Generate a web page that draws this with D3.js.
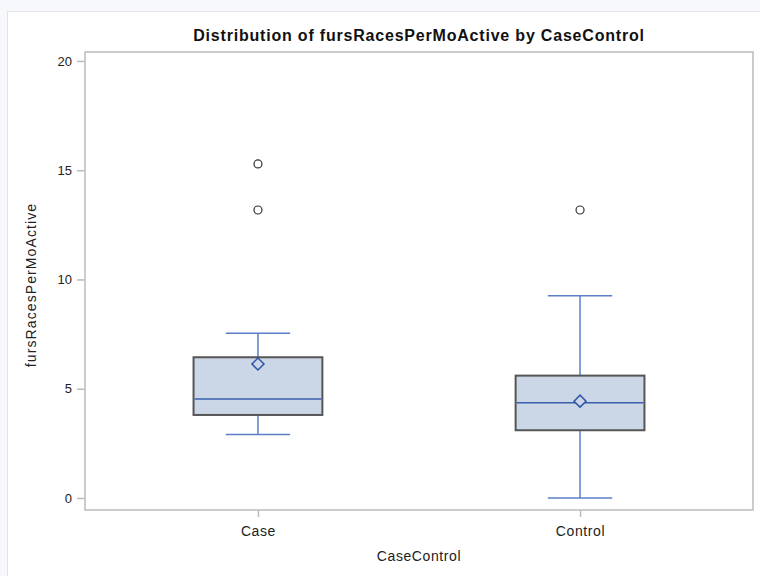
<!DOCTYPE html>
<html>
<head>
<meta charset="utf-8">
<script src="https://cdn.jsdelivr.net/npm/d3@7"></script>
<style>
  body { margin: 0; background: #f7f8fc; }
  svg { display: block; font-family: "Liberation Sans", Arial, sans-serif; }
</style>
</head>
<body>
<div id="chart"></div>
<script>
const width = 760;
const height = 576;

// plot frame
const margin = { top: 52, left: 85, bottom: 66, right: 7 };

// data
const groups = ["Case", "Control"];
const q1 = [3.80, 3.10];
const medians = [4.53, 4.36];
const q3 = [6.44, 5.60];
const whiskerLow = [2.90, 0.0];
const whiskerHigh = [7.54, 9.26];
const means = [6.13, 4.43];
const outliers = [[15.29, 13.18], [13.18]];
const yTicks = [0, 5, 10, 15, 20];

const boxes = groups.map((g, i) => ({
    group: g, q1: q1[i], median: medians[i], q3: q3[i],
    low: whiskerLow[i], high: whiskerHigh[i], mean: means[i], outliers: outliers[i]
}));

const svg = d3.select("#chart").append("svg").attr("width", width).attr("height", height);

// outer panel
svg.append("rect")
    .attr("x", 7.5).attr("y", 11.5)
    .attr("width", width).attr("height", height)
    .attr("fill", "white")
    .attr("stroke", "#e2e3e6");

const x = d3.scalePoint()
    .domain(groups)
    .range([margin.left, width - margin.right])
    .padding(0.537);

const y = d3.scaleLinear()
    .domain([-0.55, 20.41])
    .range([height - margin.bottom, margin.top]);

const step = x.step();
const boxW = step * 0.4;
const capW = step * 0.2;

// title
svg.append("text")
    .attr("x", (margin.left + width - margin.right) / 2)
    .attr("y", 41)
    .attr("text-anchor", "middle")
    .attr("fill", "#111")
    .style("font-size", "16px")
    .style("letter-spacing", "0.8px")
    .style("font-weight", 700)
    .text("Distribution of fursRacesPerMoActive by CaseControl");

// frame
svg.append("rect")
    .attr("x", margin.left).attr("y", margin.top)
    .attr("width", width - margin.left - margin.right)
    .attr("height", height - margin.top - margin.bottom)
    .attr("fill", "none")
    .attr("stroke", "#b9bcc0")
    .attr("stroke-width", 1.5);

// axes
const yAxis = d3.axisLeft(y).tickValues(yTicks).tickSize(8).tickPadding(5);
const gy = svg.append("g")
    .attr("transform", `translate(${margin.left},0)`)
    .call(yAxis);

const xAxis = d3.axisBottom(x).tickSize(7).tickPadding(9);
const gx = svg.append("g")
    .attr("transform", `translate(0,${height - margin.bottom})`)
    .call(xAxis);

[gx, gy].forEach(g => {
    g.select(".domain").remove();
    g.selectAll(".tick line").attr("stroke", "#b9bcc0").attr("stroke-width", 1.5);
    g.selectAll(".tick text").attr("fill", "#222").style("font-size", "13px");
});
gx.selectAll(".tick text").style("font-size", "14px").style("letter-spacing", "0.6px");

svg.append("text")
    .attr("x", (margin.left + width - margin.right) / 2)
    .attr("y", 561)
    .attr("text-anchor", "middle")
    .attr("fill", "#222")
    .style("font-size", "14px")
    .style("letter-spacing", "0.6px")
    .text("CaseControl");

svg.append("text")
    .attr("transform", `translate(36,${(margin.top + height - margin.bottom) / 2 + 4}) rotate(-90)`)
    .attr("text-anchor", "middle")
    .attr("fill", "#222")
    .style("font-size", "14px")
    .style("letter-spacing", "1.1px")
    .text("fursRacesPerMoActive");

// box plots
const bx = svg.append("g").selectAll("g").data(boxes).join("g");

bx.append("line")
    .attr("x1", d => x(d.group)).attr("x2", d => x(d.group))
    .attr("y1", d => y(d.high)).attr("y2", d => y(d.q3))
    .attr("stroke", "#5b7fc6").attr("stroke-width", 1.5);

bx.append("line")
    .attr("x1", d => x(d.group)).attr("x2", d => x(d.group))
    .attr("y1", d => y(d.q1)).attr("y2", d => y(d.low))
    .attr("stroke", "#5b7fc6").attr("stroke-width", 1.5);

bx.selectAll(".cap")
    .data(d => [d.high, d.low].map(v => ({ group: d.group, v })))
    .join("line")
    .attr("class", "cap")
    .attr("x1", d => x(d.group) - capW / 2).attr("x2", d => x(d.group) + capW / 2)
    .attr("y1", d => y(d.v)).attr("y2", d => y(d.v))
    .attr("stroke", "#5b7fc6").attr("stroke-width", 1.5);

bx.append("rect")
    .attr("x", d => x(d.group) - boxW / 2)
    .attr("y", d => y(d.q3))
    .attr("width", boxW)
    .attr("height", d => y(d.q1) - y(d.q3))
    .attr("fill", "#cbd6e6")
    .attr("stroke", "#555")
    .attr("stroke-width", 2);

bx.append("line")
    .attr("x1", d => x(d.group) - boxW / 2 + 1).attr("x2", d => x(d.group) + boxW / 2 - 1)
    .attr("y1", d => y(d.median)).attr("y2", d => y(d.median))
    .attr("stroke", "#3a5fae").attr("stroke-width", 1.5);

bx.append("path")
    .attr("d", d3.symbol(d3.symbolSquare, 72))
    .attr("transform", d => `translate(${x(d.group)},${y(d.mean)}) rotate(45)`)
    .attr("fill", "#cbd6e6")
    .attr("stroke", "#2f55a8")
    .attr("stroke-width", 1.5);

bx.selectAll("circle")
    .data(d => d.outliers.map(v => ({ group: d.group, v })))
    .join("circle")
    .attr("cx", d => x(d.group))
    .attr("cy", d => y(d.v))
    .attr("r", 4)
    .attr("fill", "white")
    .attr("stroke", "#333")
    .attr("stroke-width", 1.2);
</script>
</body>
</html>
